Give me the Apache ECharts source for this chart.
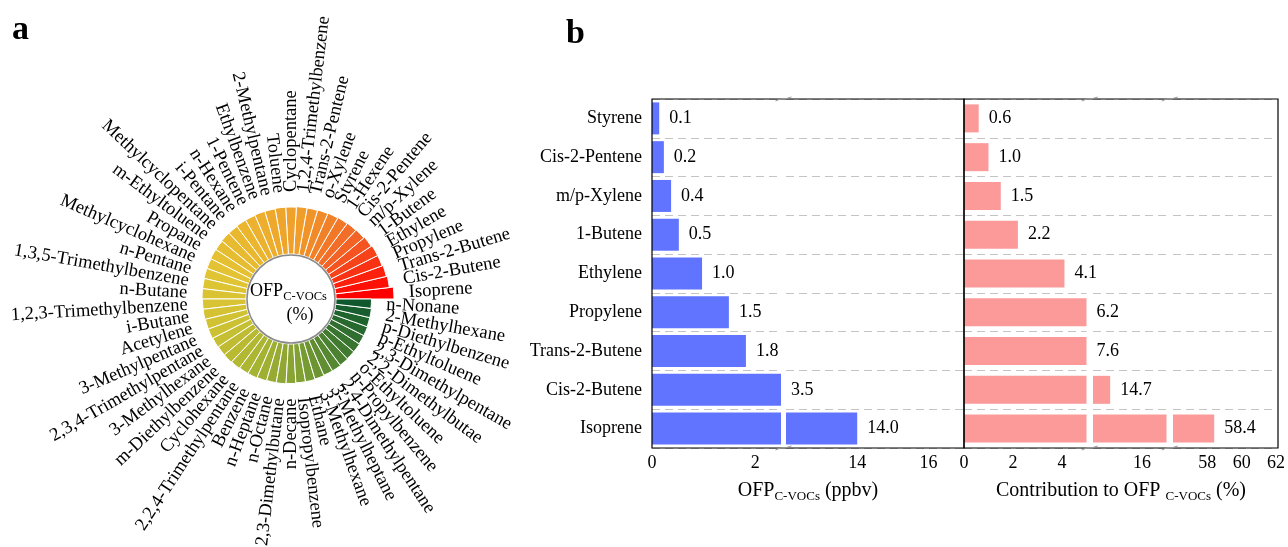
<!DOCTYPE html>
<html><head><meta charset="utf-8">
<script src="https://cdn.jsdelivr.net/npm/echarts@6/dist/echarts.min.js"></script>
<style>html,body{margin:0;padding:0;background:#fff}#c{width:1288px;height:547px}</style>
</head><body><div id="c"></div>
<script>
// ---------- Panel a: polar bar (ordered counter-clockwise from Isoprene) ----------
const polarCategories = [
  'Isoprene','Cis-2-Butene','Trans-2-Butene','Propylene','Ethylene','1-Butene','m/p-Xylene',
  'Cis-2-Pentene','1-Hexene','Styrene','o-Xylene','Trans-2-Pentene','1,2,4-Trimethylbenzene',
  'Cyclopentane','Toluene','2-Methylpentane','Ethylbenzene','1-Pentene','n-Hexane','i-Pentane',
  'Methylcyclopentane','m-Ethyltoluene','Propane','Methylcyclohexane','n-Pentane',
  '1,3,5-Trimethylbenzene','n-Butane','1,2,3-Trimethylbenzene','i-Butane','Acetylene',
  '3-Methylpentane','2,3,4-Trimethylpentane','3-Methylhexane','m-Diethylbenzene','Cyclohexane',
  '2,2,4-Trimethylpentane','Benzene','n-Heptane','n-Octane','2,3-Dimethylbutane','n-Decane',
  'Isopropylbenzene','Ethane','3-Methylhexane','3-Methylheptane','2,4-Dimethylpentane',
  'n-Propylbenzene','o-Ethyltoluene','2,2-Dimethylbutae','2,3-Dimethylpentane','p-Ethyltoluene',
  'p-Diethylbenzene','2-Methylhexane','n-Nonane'
];
// bar length (radial units)
const polarLength = [
  58, 54, 53, 52, 52, 51, 50, 49.5, 49, 48.5, 48, 47.5, 47.5, 47, 47, 46.5, 46.5, 46, 46, 45.5,
  45.5, 45, 45, 44.5, 44.5, 44, 44, 43.5, 43.5, 43, 43, 42.5, 42, 42, 41.5, 41, 41, 40.5, 40, 40,
  39.5, 39, 39, 38.5, 38, 38, 37.5, 37, 37, 36.5, 36.5, 36, 36, 35.5
];
const polarColors = ['#ff0000','#f36226','#f09c2a','#ecb42e','#e2c433','#cfc233','#aab532','#80a033','#3f7a30','#0f572c'];

// ---------- Panel b: broken-axis horizontal bars ----------
const barCategories = ['Styrene','Cis-2-Pentene','m/p-Xylene','1-Butene','Ethylene','Propylene','Trans-2-Butene','Cis-2-Butene','Isoprene'];
const ofpValues = [0.14, 0.23, 0.37, 0.52, 0.97, 1.49, 1.82, 3.5, 14.0];
const contributionValues = [0.6, 1.0, 1.5, 2.2, 4.1, 6.2, 7.6, 14.7, 58.4];
const ofpRanges = [[0, 2.5], [12, 17]];
const contributionRanges = [[0, 5], [14, 17], [56, 62]];

const FONT = '"Liberation Serif","Times New Roman",serif';
const chart = echarts.init(document.getElementById('c'));

const gridBoxes = [
  {left: 652, width: 129}, {left: 786, width: 178},
  {left: 964, width: 122.5}, {left: 1093, width: 73.5}, {left: 1173, width: 105}
];
const panels = [
  {ranges: ofpRanges, values: ofpValues, color: '#6074ff', barWidth: 32, first: 0},
  {ranges: contributionRanges, values: contributionValues, color: '#fc9a9a', barWidth: 28, first: 2}
];

const grids = [], xAxes = [], yAxes = [], series = [];
panels.forEach(function (p) {
  p.ranges.forEach(function (rg, k) {
    const gi = p.first + k;
    const box = gridBoxes[gi];
    grids.push({left: box.left, width: box.width, top: 99, height: 349});
    xAxes.push({
      gridIndex: gi, type: 'value', min: rg[0], max: rg[1], interval: 2,
      axisLine: {show: false}, axisTick: {show: false}, splitLine: {show: false},
      axisLabel: {color: '#000', fontSize: 18, fontFamily: FONT, margin: 6,
        showMinLabel: k === 0, showMaxLabel: k === p.ranges.length - 1 && p.first === 2}
    });
    yAxes.push({
      gridIndex: gi, type: 'category', data: barCategories, inverse: true,
      axisLine: {show: false}, axisTick: {show: false},
      axisLabel: {show: gi === 0, color: '#000', fontSize: 18, fontFamily: FONT, margin: 10},
      splitLine: {show: true, interval: 0, lineStyle: {color: '#c4c4c4', type: [8, 5], width: 1}}
    });
    series.push({
      type: 'bar', xAxisIndex: gi, yAxisIndex: gi, barWidth: p.barWidth, clip: true,
      itemStyle: {color: p.color},
      label: {position: 'right', distance: 10, color: '#000', fontSize: 18, fontFamily: FONT,
        formatter: function (d) { return Number(d.value).toFixed(1); }},
      data: p.values.map(function (v) {
        // label goes with the last segment whose start is below the value
        let seg = 0;
        p.ranges.forEach(function (r, j) { if (v > r[0]) seg = j; });
        return {value: v, label: {show: seg === k}};
      })
    });
  });
});

const polarBarIndex = series.length;
series.push({
  type: 'bar', coordinateSystem: 'polar', barCategoryGap: '0%', z: 2,
  itemStyle: {borderColor: '#fff', borderWidth: 1},
  data: polarLength.map(function (v, i) { return [v, i]; })
});
series.push({
  type: 'custom', coordinateSystem: 'polar', z: 5, silent: true,
  data: polarLength.map(function (v, i) { return [v, i]; }),
  renderItem: function (params, api) {
    const cs = params.coordSys;
    const idx = api.value(1);
    const pt = api.coord([api.value(0), idx]);
    const dx = pt[0] - cs.cx, dy = pt[1] - cs.cy;
    const dist = Math.sqrt(dx * dx + dy * dy);
    const ang = Math.atan2(-dy, dx);
    let deg = ang * 180 / Math.PI; if (deg < 0) deg += 360;
    const leftSide = deg > 90.01 && deg <= 270.01;
    const rr = dist + 15;
    return {
      type: 'text',
      x: cs.cx + rr * Math.cos(ang), y: cs.cy - rr * Math.sin(ang),
      rotation: leftSide ? ang - Math.PI : ang,
      style: {text: polarCategories[idx], fill: '#000', fontSize: 18.5, fontFamily: FONT,
        align: leftSide ? 'right' : 'left', verticalAlign: 'middle'}
    };
  }
});

const graphics = [
  {type: 'circle', shape: {cx: 291, cy: 299, r: 44}, style: {fill: '#fff', stroke: '#8a8a8a', lineWidth: 1.5}, z: 10},
  {type: 'text', x: 288.5, y: 291, z: 11, style: {text: '{a|OFP}{b|C-VOCs}', align: 'center', verticalAlign: 'middle',
    rich: {a: {fontSize: 18, fontFamily: FONT, fill: '#000'}, b: {fontSize: 12.5, fontFamily: FONT, fill: '#000', padding: [11, 0, 0, 0]}}}},
  {type: 'text', x: 300, y: 315, z: 11, style: {text: '(%)', fontSize: 18, fontFamily: FONT, fill: '#000', align: 'center', verticalAlign: 'middle'}},
  {type: 'text', x: 12, y: 30, style: {text: 'a', font: 'bold 34px ' + FONT, fill: '#000', align: 'left', verticalAlign: 'middle'}},
  {type: 'text', x: 566, y: 34, style: {text: 'b', font: 'bold 34px ' + FONT, fill: '#000', align: 'left', verticalAlign: 'middle'}},
  {type: 'rect', z: 20, shape: {x: 652, y: 99, width: 312, height: 349}, style: {fill: 'none', stroke: '#000', lineWidth: 1.2}},
  {type: 'rect', z: 20, shape: {x: 964, y: 99, width: 314, height: 349}, style: {fill: 'none', stroke: '#000', lineWidth: 1.2}},
  {type: 'text', x: 808, y: 491, style: {text: '{a|OFP}{b|C-VOCs}{a| (ppbv)}', align: 'center', verticalAlign: 'middle',
    rich: {a: {fontSize: 20, fontFamily: FONT, fill: '#000'}, b: {fontSize: 13, fontFamily: FONT, fill: '#000', padding: [12, 0, 0, 0]}}}},
  {type: 'text', x: 1121, y: 491, style: {text: '{a|Contribution to OFP }{b|C-VOCs}{a| (%)}', align: 'center', verticalAlign: 'middle',
    rich: {a: {fontSize: 20, fontFamily: FONT, fill: '#000'}, b: {fontSize: 13, fontFamily: FONT, fill: '#000', padding: [12, 0, 0, 0]}}}}
];
// small break marks on the frame
[783.5, 1089.8, 1169.8].forEach(function (x) {
  [99, 448].forEach(function (y) {
    graphics.push({type: 'polyline', z: 21, shape: {points: [[x - 8, y + 2], [x - 3, y], [x + 3, y - 0.5], [x + 8, y - 2]]},
      style: {stroke: '#9a9a9a', lineWidth: 1, fill: 'none'}});
  });
});

chart.setOption({
  animation: false,
  backgroundColor: '#fff',
  textStyle: {fontFamily: FONT},
  grid: grids, xAxis: xAxes, yAxis: yAxes,
  polar: {center: [291, 299], radius: [45, 105]},
  angleAxis: {type: 'category', data: polarCategories, startAngle: 0, clockwise: false,
    axisLine: {show: false}, axisTick: {show: false}, axisLabel: {show: false}, splitLine: {show: false}},
  radiusAxis: {type: 'value', min: 0, max: 60, show: false},
  visualMap: {show: false, type: 'continuous', seriesIndex: polarBarIndex, dimension: 1, min: 0, max: polarCategories.length - 1,
    inRange: {color: polarColors}},
  graphic: graphics,
  series: series
});
</script></body></html>
